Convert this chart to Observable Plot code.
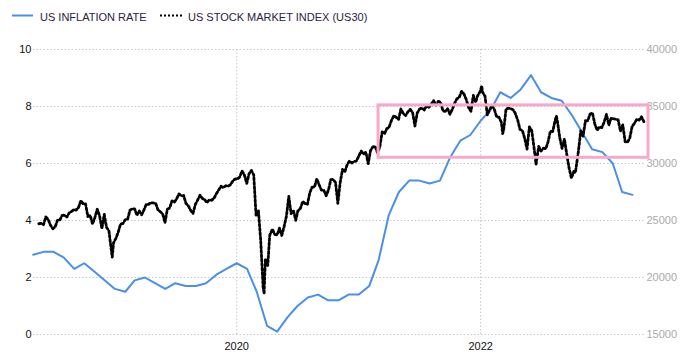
<!DOCTYPE html>
<html><head><meta charset="utf-8">
<script src="https://cdn.jsdelivr.net/npm/d3@7"></script>
<script src="https://cdn.jsdelivr.net/npm/@observablehq/plot@0.6"></script>
<style>
body{margin:0;background:#fff;font-family:"Liberation Sans",Arial,sans-serif;}
#legend{display:block;}
#chart svg{display:block;}
</style></head><body>
<svg id="legend" width="695" height="30"></svg>
<div id="chart"></div>
<script>
// ---- data ----
const seriesNames = ["US INFLATION RATE", "US STOCK MARKET INDEX (US30)"];
const inflationStart = "2018-05";
const inflationRates = [
  2.8,2.9,2.9,2.7,2.3,2.5,2.2,1.9,
  1.6,1.5,1.9,2.0,1.8,1.6,1.8,1.7,1.7,1.8,2.1,2.3,
  2.5,2.3,1.5,0.3,0.1,0.6,1.0,1.3,1.4,1.2,1.2,1.4,
  1.4,1.7,2.6,4.2,5.0,5.4,5.4,5.3,5.4,6.2,6.8,7.0,
  7.5,7.9,8.5,8.3,8.6,9.1,8.5,8.3,8.2,7.7,7.1,6.5,
  6.4,6.0,5.0,4.9
];
const stockSeries = [
  ["2018-05-18",24715],["2018-05-25",24753],["2018-06-01",24635],["2018-06-08",25317],["2018-06-15",25090],
  ["2018-06-22",24581],["2018-06-29",24271],["2018-07-06",24456],["2018-07-13",25019],["2018-07-20",25058],
  ["2018-07-27",25451],["2018-08-03",25463],["2018-08-10",25313],["2018-08-17",25669],["2018-08-24",25790],
  ["2018-08-31",25965],["2018-09-07",25917],["2018-09-14",26155],["2018-09-21",26744],["2018-09-28",26458],
  ["2018-10-05",26447],["2018-10-12",25340],["2018-10-19",25444],["2018-10-26",24688],["2018-11-02",25271],
  ["2018-11-09",25989],["2018-11-16",25413],["2018-11-23",24286],["2018-11-30",25538],["2018-12-07",24389],
  ["2018-12-14",24101],["2018-12-21",22445],["2018-12-24",21792],["2018-12-28",23062],
  ["2019-01-04",23433],["2019-01-11",23996],["2019-01-18",24706],["2019-01-25",24737],["2019-02-01",25064],
  ["2019-02-08",25106],["2019-02-15",25883],["2019-02-22",26031],["2019-03-01",26026],["2019-03-08",25450],
  ["2019-03-15",25849],["2019-03-22",25502],["2019-03-29",25929],["2019-04-05",26425],["2019-04-12",26412],
  ["2019-04-18",26559],["2019-04-26",26543],["2019-05-03",26505],["2019-05-10",25942],["2019-05-17",25764],
  ["2019-05-24",25586],["2019-05-31",24815],["2019-06-07",25984],["2019-06-14",26090],["2019-06-21",26719],
  ["2019-06-28",26600],["2019-07-05",26922],["2019-07-12",27332],["2019-07-19",27154],["2019-07-26",27192],
  ["2019-08-02",26485],["2019-08-09",26287],["2019-08-16",25886],["2019-08-23",25629],["2019-08-30",26403],
  ["2019-09-06",26797],["2019-09-13",27220],["2019-09-20",26935],["2019-09-27",26820],["2019-10-04",26573],
  ["2019-10-11",26817],["2019-10-18",26770],["2019-10-25",26958],["2019-11-01",27347],["2019-11-08",27681],
  ["2019-11-15",28005],["2019-11-22",27876],["2019-11-29",28051],["2019-12-06",28015],["2019-12-13",28135],
  ["2019-12-20",28455],["2019-12-27",28645],
  ["2020-01-03",28634],["2020-01-10",28823],["2020-01-17",29348],["2020-01-24",28989],["2020-01-31",28256],
  ["2020-02-07",29102],["2020-02-14",29398],["2020-02-21",28992],["2020-02-28",25409],["2020-03-06",25864],
  ["2020-03-13",23185],["2020-03-20",19174],["2020-03-23",18592],["2020-03-27",21637],["2020-04-03",21053],
  ["2020-04-09",23719],["2020-04-17",24242],["2020-04-24",23775],["2020-05-01",23724],["2020-05-08",24331],
  ["2020-05-15",23685],["2020-05-22",24465],["2020-05-29",25383],["2020-06-05",27111],["2020-06-12",25605],
  ["2020-06-19",25871],["2020-06-26",25016],["2020-07-02",25827],["2020-07-10",26075],["2020-07-17",26672],
  ["2020-07-24",26469],["2020-07-31",26428],["2020-08-07",27433],["2020-08-14",27931],["2020-08-21",27930],
  ["2020-08-28",28654],["2020-09-04",28133],["2020-09-11",27666],["2020-09-18",27657],["2020-09-25",27174],
  ["2020-10-02",27683],["2020-10-09",28586],["2020-10-16",28606],["2020-10-23",28335],["2020-10-30",26502],
  ["2020-11-06",28323],["2020-11-13",29479],["2020-11-20",29263],["2020-11-27",29910],["2020-12-04",30218],
  ["2020-12-11",30046],["2020-12-18",30179],["2020-12-24",30199],["2020-12-31",30606],
  ["2021-01-08",31098],["2021-01-15",30814],["2021-01-22",30997],["2021-01-29",29983],["2021-02-05",31148],
  ["2021-02-12",31458],["2021-02-19",31494],["2021-02-26",30932],["2021-03-05",31496],["2021-03-12",32779],
  ["2021-03-19",32628],["2021-03-26",33073],["2021-04-01",33153],["2021-04-09",33801],["2021-04-16",34200],
  ["2021-04-23",34043],["2021-04-30",33875],["2021-05-07",34778],["2021-05-14",34382],["2021-05-21",34208],
  ["2021-05-28",34529],["2021-06-04",34756],["2021-06-11",34480],["2021-06-18",33290],["2021-06-25",34433],
  ["2021-07-02",34786],["2021-07-09",34870],["2021-07-16",34687],["2021-07-23",35062],["2021-07-30",34935],
  ["2021-08-06",35209],["2021-08-13",35515],["2021-08-20",35120],["2021-08-27",35455],["2021-09-03",35369],
  ["2021-09-10",34607],["2021-09-17",34584],["2021-09-24",34798],["2021-10-01",34326],["2021-10-08",34746],
  ["2021-10-15",35295],["2021-10-22",35677],["2021-10-29",35820],["2021-11-05",36328],["2021-11-12",36100],
  ["2021-11-19",35602],["2021-11-26",34899],["2021-12-03",34580],["2021-12-10",35971],["2021-12-17",35365],
  ["2021-12-23",35951],["2021-12-31",36338],
  ["2022-01-04",36800],["2022-01-07",36231],["2022-01-14",35912],["2022-01-21",34265],["2022-01-28",34725],
  ["2022-02-04",35089],["2022-02-11",34738],["2022-02-18",34079],["2022-02-25",34059],["2022-03-04",33615],
  ["2022-03-08",32632],["2022-03-11",32945],["2022-03-18",34755],["2022-03-25",34861],["2022-04-01",34818],
  ["2022-04-08",34721],["2022-04-14",34451],["2022-04-22",33811],["2022-04-29",32977],["2022-05-06",32899],
  ["2022-05-13",32197],["2022-05-20",31262],["2022-05-27",33213],["2022-06-03",32900],["2022-06-10",31393],
  ["2022-06-16",29927],["2022-06-24",31500],["2022-07-01",31097],["2022-07-08",31339],["2022-07-15",31289],
  ["2022-07-22",31899],["2022-07-29",32845],["2022-08-05",32803],["2022-08-12",33761],["2022-08-16",34152],
  ["2022-08-19",33706],["2022-08-26",32283],["2022-09-02",31318],["2022-09-09",32151],["2022-09-16",30822],
  ["2022-09-23",29590],["2022-09-30",28725],["2022-10-07",29297],["2022-10-12",29210],["2022-10-14",29635],
  ["2022-10-21",31082],["2022-10-28",32861],["2022-11-04",32403],["2022-11-11",33748],["2022-11-18",33746],
  ["2022-11-25",34347],["2022-12-02",34430],["2022-12-09",33476],["2022-12-16",32920],["2022-12-23",33204],
  ["2022-12-30",33147],
  ["2023-01-06",33631],["2023-01-13",34303],["2023-01-20",33376],["2023-01-27",33978],["2023-02-03",33926],
  ["2023-02-10",33869],["2023-02-17",33827],["2023-02-24",32817],["2023-03-03",33391],["2023-03-10",31910],
  ["2023-03-17",31862],["2023-03-24",32238],["2023-03-31",33274],["2023-04-06",33485],["2023-04-14",33886],
  ["2023-04-21",33809],["2023-04-28",34098],["2023-05-05",33674]
];
const leftTicks = [0, 2, 4, 6, 8, 10];
const rightTicks = [15000, 20000, 25000, 30000, 35000, 40000];
const xTicks = ["2020-01-01", "2022-01-01"];
const xDomain = ["2018-05-02", "2023-05-07"];
const highlightDates = ["2021-03-01", "2023-05-19"];
const highlightRange = [30500, 35100];

// ---- colors / helpers ----
const blue = "#4a8fe9";
const pink = "#f8a9c9";
const parse = d3.utcParse("%Y-%m-%d");
const toLeft = v => (v - rightTicks[0]) / ((rightTicks[rightTicks.length-1] - rightTicks[0]) / (leftTicks[leftTicks.length-1] - leftTicks[0]));

const startMonth = d3.utcParse("%Y-%m")(inflationStart);
const inflation = inflationRates.map((v, i) => ({date: d3.utcMonth.offset(startMonth, i), value: v}));
const stock = stockSeries.map(([d, v]) => ({date: parse(d), value: v}));
const box = [{x1: parse(highlightDates[0]), x2: parse(highlightDates[1]), y1: highlightRange[0], y2: highlightRange[1]}];

// ---- legend ----
const lg = d3.select("#legend");
lg.append("line").attr("x1",12).attr("x2",33).attr("y1",15.5).attr("y2",15.5).attr("stroke",blue).attr("stroke-width",2);
lg.append("text").attr("x",40).attr("y",20.5).attr("font-size",11).attr("fill","#2b2140").text(seriesNames[0]);
lg.append("line").attr("x1",160).attr("x2",183).attr("y1",15.5).attr("y2",15.5).attr("stroke","#000").attr("stroke-width",2.2).attr("stroke-dasharray","2,2");
lg.append("text").attr("x",188).attr("y",20.5).attr("font-size",11).attr("fill","#2b2140").text(seriesNames[1]);

// ---- chart ----
const chart = Plot.plot({
  width: 695,
  height: 334,
  marginTop: 19,
  marginBottom: 30,
  marginLeft: 33,
  marginRight: 51,
  style: {fontFamily: '"Liberation Sans", Arial, sans-serif', fontSize: "11px", background: "#fff"},
  x: {type: "utc", domain: xDomain.map(parse)},
  y: {domain: [leftTicks[0], leftTicks[leftTicks.length-1]]},
  marks: [
    Plot.gridY(leftTicks, {stroke: "#c8c8c8", strokeOpacity: 1, strokeDasharray: "1.5,2"}),
    Plot.gridX(xTicks.map(parse), {stroke: "#c8c8c8", strokeOpacity: 1, strokeDasharray: "1.5,2"}),
    Plot.axisY({ticks: leftTicks, tickSize: 0, tickPadding: 2, label: null, fill: "#111"}),
    Plot.axisY({anchor: "right", ticks: rightTicks.map(toLeft), tickFormat: (d, i) => String(rightTicks[i]), tickSize: 0, tickPadding: 2, label: null, fill: "#aaaaaa"}),
    Plot.axisX({ticks: xTicks.map(parse), tickFormat: d3.utcFormat("%Y"), tickSize: 0, tickPadding: 8, label: null, fill: "#111"}),
    Plot.line(inflation, {x: "date", y: "value", stroke: blue, strokeWidth: 2, curve: "linear"}),
    Plot.line(stock, {x: "date", y: d => toLeft(d.value), stroke: "#000", strokeWidth: 2.8, strokeDasharray: "2.2,2.2"}),
    Plot.rect(box, {x1: "x1", x2: "x2", y1: d => toLeft(d.y1), y2: d => toLeft(d.y2), fill: "none", stroke: pink, strokeWidth: 3})
  ]
});
document.getElementById("chart").appendChild(chart);
</script>
</body></html>
